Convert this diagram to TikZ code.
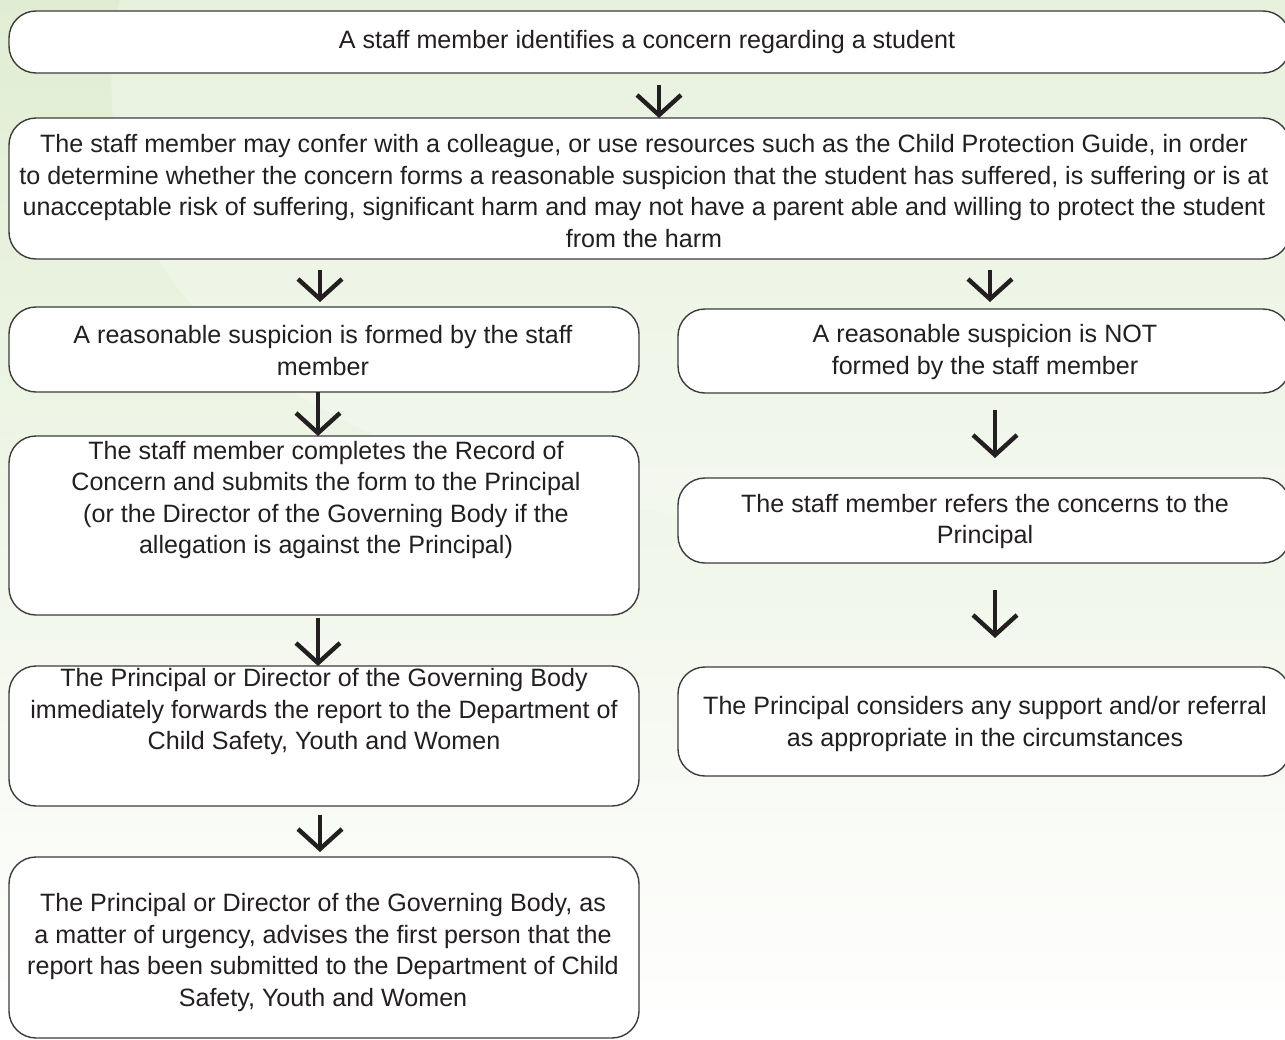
\documentclass[tikz,border=0pt]{standalone}
\usepackage{fontspec}
\setmainfont{Liberation Sans}
\usetikzlibrary{arrows.meta,calc}
\definecolor{bgtop}{RGB}{225,237,211}
\definecolor{bgmid}{RGB}{238,245,229}
\definecolor{edge}{RGB}{60,60,60}
\definecolor{ink}{RGB}{35,31,32}
\tikzset{
  box/.style={draw=edge, line width=1.4pt, fill=white, rounded corners=27pt, inner sep=0pt, outer sep=0pt},
  txt/.style={text=ink, align=center, inner sep=0pt, font=\fontsize{25.1}{31.5}\selectfont},
  arr/.style={draw=ink, line width=4.4pt, -{Straight Barb[length=20pt,width=44pt,line width=4.4pt]}},
}
\begin{document}
\begin{tikzpicture}[x=1pt,y=-1pt]
\useasboundingbox (0,0) rectangle (1285,1039);
\shade[top color=bgtop, middle color=bgmid, bottom color=white] (0,0) rectangle (1285,1039);
\fill[white, opacity=0.25] (1285,0) -- (120,0) .. controls (60,300) and (300,600) .. (1285,520) -- cycle;

% boxes
\node[box, minimum width=1281pt, minimum height=62pt]  (b1)  at (649.5,42) {};
\node[box, minimum width=1281pt, minimum height=141pt] (b2)  at (649.5,188.5) {};
\node[box, minimum width=630pt, minimum height=85pt]   (b3l) at (324,349.5) {};
\node[box, minimum width=612pt, minimum height=84pt]   (b3r) at (984,351) {};
\node[box, minimum width=630pt, minimum height=179pt]  (b4l) at (324,525.5) {};
\node[box, minimum width=612pt, minimum height=85pt]   (b4r) at (984,520.5) {};
\node[box, minimum width=630pt, minimum height=140pt]  (b5l) at (324,736) {};
\node[box, minimum width=612pt, minimum height=109pt]  (b5r) at (984,721.5) {};
\node[box, minimum width=630pt, minimum height=181pt]  (b6l) at (324,947.5) {};

% texts
\node[txt] (t1) at (647,42) {A staff member identifies a concern regarding a student};
\node[txt] (t2) at (644,191) {The staff member may confer with a colleague, or use resources such as the Child Protection Guide, in order\\to determine whether the concern forms a reasonable suspicion that the student has suffered, is suffering or is at\\unacceptable risk of suffering, significant harm and may not have a parent able and willing to protect the student\\from the harm};
\node[txt] (t3l) at (323,350.5) {A reasonable suspicion is formed by the staff\\member};
\node[txt] (t3r) at (985,352) {A reasonable suspicion is NOT\\formed by the staff member};
\node[txt] (t4l) at (326,500) {The staff member completes the Record of\\Concern and submits the form to the Principal\\(or the Director of the Governing Body if the\\allegation is against the Principal)};
\node[txt] (t4r) at (985,521.5) {The staff member refers the concerns to the\\Principal};
\node[txt] (t5l) at (324,711.5) {The Principal or Director of the Governing Body\\immediately forwards the report to the Department of\\Child Safety, Youth and Women};
\node[txt] (t5r) at (985,724) {The Principal considers any support and/or referral\\as appropriate in the circumstances};
\node[txt] (t6l) at (323,952.5) {The Principal or Director of the Governing Body, as\\a matter of urgency, advises the first person that the\\report has been submitted to the Department of Child\\Safety, Youth and Women};

% arrows
\draw[arr, shorten <=12pt] (b1.south -| 659,0) -- (b2.north -| 659,0);
\draw[arr, shorten <=11pt, shorten >=5pt] (b2.south -| 320,0) -- (b3l.north -| 320,0);
\draw[arr, shorten <=11pt, shorten >=7pt] (b2.south -| 990,0) -- (b3r.north -| 990,0);
\draw[arr] (b3l.south -| 318,0) -- (b4l.north -| 318,0);
\draw[arr, shorten <=17pt, shorten >=20pt] (b3r.south -| 995,0) -- (b4r.north -| 995,0);
\draw[arr, shorten <=3pt] (b4l.south -| 318,0) -- (b5l.north -| 318,0);
\draw[arr, shorten <=27pt, shorten >=29pt] (b4r.south -| 995,0) -- (b5r.north -| 995,0);
\draw[arr, shorten <=9pt, shorten >=5pt] (b5l.south -| 320,0) -- (b6l.north -| 320,0);
\end{tikzpicture}
\end{document}
